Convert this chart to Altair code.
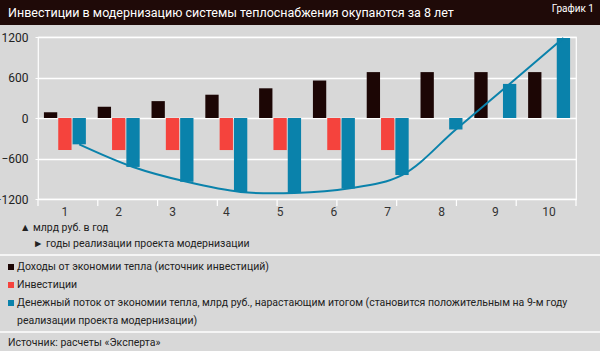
import altair as alt
import pandas as pd

# ---- data ----
years = [1, 2, 3, 4, 5, 6, 7, 8, 9, 10]
income = [85, 165, 250, 345, 440, 555, 680, 680, 680, 680]
invest = [-475, -475, -475, -475, -475, -475, -475, None, None, None]
cumulative = [-390, -725, -945, -1095, -1110, -1045, -845, -170, 505, 1185]
y_ticks = [-1200, -600, 0, 600, 1200]
grid_marks = [0, 1, 2, 3, 4, 5, 6, 7, 8, 9]

series_keys = ["income", "invest", "cum"]
series_colors = ["#1c0605", "#f5433d", "#0a82ab"]

title_text = "Инвестиции в модернизацию системы теплоснабжения окупаются за 8 лет"
tag_text = "График 1"
unit_text = "▲ млрд руб. в год"
axis_text = "► годы реализации проекта модернизации"
legend_texts = [
    "Доходы от экономии тепла (источник инвестиций)",
    "Инвестиции",
    "Денежный поток от экономии тепла, млрд руб., нарастающим итогом (становится положительным на 9-м году",
    "реализации проекта модернизации)",
]
source_text = "Источник: расчеты «Эксперта»"

FONT = "Roboto, Liberation Sans Narrow, sans-serif"

rows = []
for i, y in enumerate(years):
    rows.append({"year": y, "series": "income", "value": income[i]})
    if invest[i] is not None:
        rows.append({"year": y, "series": "invest", "value": invest[i]})
    rows.append({"year": y, "series": "cum", "value": cumulative[i]})
df = pd.DataFrame(rows)
cum_df = pd.DataFrame({"year": years, "series": ["cum"] * len(years), "value": cumulative})

W, H = 538, 162
L, T = 38, 37

xscale = alt.Scale(paddingInner=0.22, paddingOuter=0.11)
offscale = alt.Scale(domain=series_keys, paddingInner=0.07)
yscale = alt.Scale(domain=[-1200, 1200], nice=False)

bars = alt.Chart(df).mark_bar().encode(
    x=alt.X("year:O", scale=xscale, title=None,
            axis=alt.Axis(labelAngle=0, ticks=False, domain=False, grid=False,
                          labelFontSize=12, labelColor="#333333", labelFont=FONT,
                          labelPadding=7)),
    xOffset=alt.XOffset("series:N", scale=offscale),
    y=alt.Y("value:Q", scale=yscale, title=None,
            axis=alt.Axis(values=y_ticks, format="d", grid=True, gridColor="white", gridWidth=1.5,
                          domain=False, tickColor="white", tickSize=3,
                          labelFontSize=12, labelColor="#222222", labelFont=FONT,
                          labelPadding=7)),
    color=alt.Color("series:N", scale=alt.Scale(domain=series_keys, range=series_colors), legend=None),
)

line = alt.Chart(cum_df).mark_line(interpolate="catmull-rom", color="#0a82ab", strokeWidth=2).encode(
    x=alt.X("year:O", scale=xscale),
    xOffset=alt.XOffset("series:N", scale=offscale),
    y=alt.Y("value:Q", scale=yscale),
)

inner = alt.layer(bars, line)

ticks = alt.Chart(pd.DataFrame({"t": grid_marks})).mark_rule(color="white", strokeWidth=1.2).encode(
    x=alt.X("t:Q", scale=alt.Scale(domain=[0, 9], nice=False, zero=False), axis=None),
    y=alt.value(H),
    y2=alt.value(H + 7),
)

one = pd.DataFrame({"k": [0]})

def txt(s, x, y, size=10.5, color="#222222", align="left"):
    return alt.Chart(one).mark_text(text=s, font=FONT, fontSize=size, color=color,
                                    align=align, baseline="middle").encode(
        x=alt.value(x), y=alt.value(y))

def rect(x, x2, y, y2, color):
    return alt.Chart(one).mark_rect(color=color).encode(
        x=alt.value(x), x2=alt.value(x2), y=alt.value(y), y2=alt.value(y2))

def hline(y):
    return alt.Chart(one).mark_rule(color="white", strokeWidth=1.5).encode(
        x=alt.value(-L), x2=alt.value(600 - L), y=alt.value(y))

deco = [
    rect(-L, 600 - L, -T, 25 - T, "#1f0a08"),
    txt(title_text, 8 - L, 13 - T, size=12.5, color="white"),
    txt(tag_text, 594 - L, 9 - T, size=10, color="white", align="right"),
    txt(unit_text, 20 - L, 228 - T),
    txt(axis_text, 33 - L, 244 - T),
    hline(255 - T),
    rect(8 - L, 14 - L, 264 - T, 270 - T, series_colors[0]),
    txt(legend_texts[0], 17 - L, 267 - T),
    rect(8 - L, 14 - L, 282 - T, 288 - T, series_colors[1]),
    txt(legend_texts[1], 17 - L, 285 - T),
    rect(8 - L, 14 - L, 300 - T, 306 - T, series_colors[2]),
    txt(legend_texts[2], 17 - L, 303 - T),
    txt(legend_texts[3], 17 - L, 321 - T),
    hline(332 - T),
    txt(source_text, 8 - L, 343 - T),
]

chart = alt.layer(inner, ticks, *deco).resolve_scale(x="independent").properties(
    width=W, height=H,
    autosize=alt.AutoSizeParams(type="none"),
    padding={"left": L, "top": T, "right": 600 - L - W, "bottom": 351 - T - H},
    background="#d8d8d8",
).configure_view(stroke="white", strokeWidth=1.2)

chart.save("out.html", embed_options={"renderer": "svg", "actions": False})
